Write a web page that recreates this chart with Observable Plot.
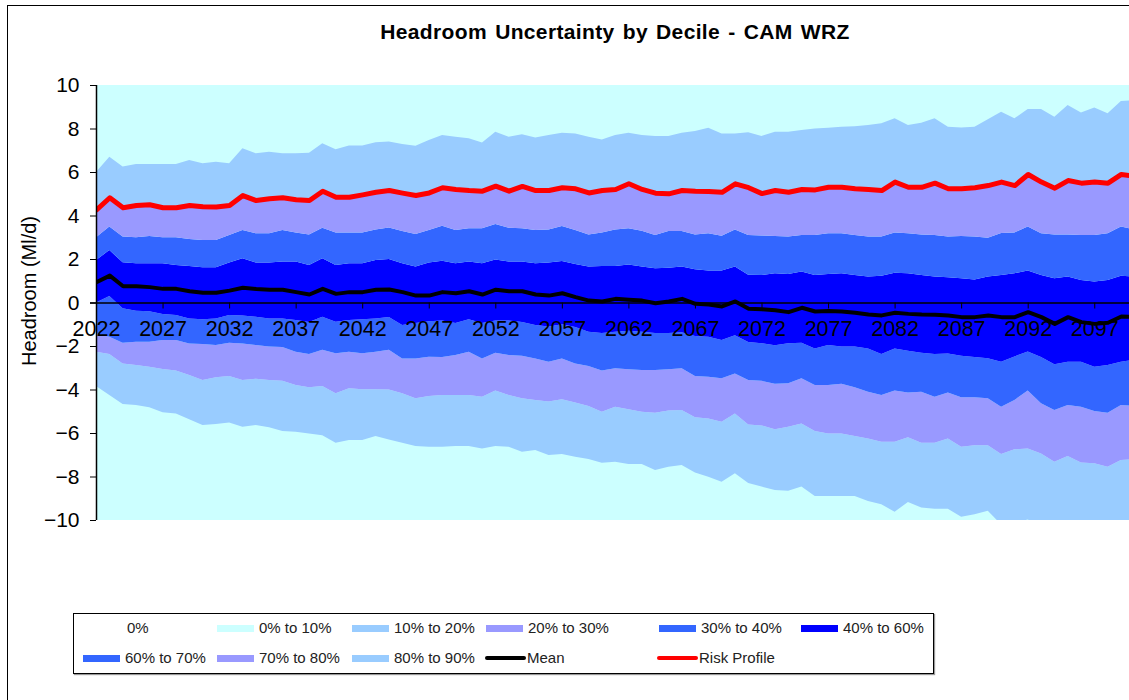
<!DOCTYPE html>
<html>
<head>
<meta charset="utf-8">
<script src="https://cdn.jsdelivr.net/npm/d3@7"></script>
<script src="https://cdn.jsdelivr.net/npm/@observablehq/plot@0.6"></script>
<style>
  html, body { margin: 0; padding: 0; background: #fff; }
  body { font-family: "Liberation Sans", Arial, sans-serif; }
  #wrap { position: relative; width: 1129px; height: 700px; overflow: hidden; }
  #frame { position: absolute; left: 7px; top: 5px; width: 1200px; height: 800px; border-left: 1px solid #000; border-top: 1px solid #000; }
  #title { position: absolute; left: 0; width: 1230px; top: 19px; text-align: center; font-weight: bold; font-size: 21px; letter-spacing: 0.35px; word-spacing: 2px; color: #000; line-height: 26px; }
  #chart { position: absolute; left: 0; top: 0; }
  #legend { position: absolute; left: 73px; top: 613px; width: 859px; height: 59px; border: 1px solid #000; box-shadow: 1px 1px 1px #999; background: #fff; }
  .item { position: absolute; font-size: 15px; color: #222; white-space: nowrap; line-height: 18px; }
  .sw { position: absolute; height: 7px; width: 37px; }
  .ln { position: absolute; height: 4px; width: 41px; border-radius: 2px; }
</style>
</head>
<body>
<div id="wrap">
  <div id="frame"></div>
  <div id="chart"></div>
  <div id="title"></div>
  <div id="legend"></div>
</div>
<script>
const titleText = "Headroom Uncertainty by Decile - CAM WRZ";
const yLabel = "Headroom (Ml/d)";
const years = d3.range(2022, 2101);
const xTickYears = [2022, 2027, 2032, 2037, 2042, 2047, 2052, 2057, 2062, 2067, 2072, 2077, 2082, 2087, 2092, 2097];
const yTicks = [-10, -8, -6, -4, -2, 0, 2, 4, 6, 8, 10];

const p90 = [6.0, 6.7, 6.25, 6.37, 6.37, 6.37, 6.37, 6.55, 6.4, 6.47,
  6.4, 7.09, 6.86, 6.93, 6.86, 6.86, 6.88, 7.32, 7.05, 7.22,
  7.22, 7.37, 7.4, 7.29, 7.21, 7.47, 7.7, 7.62, 7.55, 7.36,
  7.85, 7.62, 7.73, 7.59, 7.7, 7.81, 7.77, 7.62, 7.5, 7.7,
  7.81, 7.7, 7.66, 7.66, 7.81, 7.88, 8.04, 7.77, 7.77, 7.83,
  7.66, 7.85, 7.85, 7.93, 8.0, 8.04, 8.08, 8.1, 8.16, 8.24,
  8.47, 8.16, 8.27, 8.47, 8.08, 8.05, 8.08, 8.42, 8.77, 8.47,
  8.9, 8.9, 8.54, 9.08, 8.73, 8.97, 8.7, 9.26, 9.3];
const riskProfile = [4.28, 4.84, 4.38, 4.48, 4.52, 4.38, 4.38, 4.48, 4.43, 4.41,
  4.48, 4.94, 4.71, 4.79, 4.84, 4.75, 4.71, 5.14, 4.86, 4.86,
  4.97, 5.09, 5.17, 5.05, 4.94, 5.06, 5.3, 5.22, 5.17, 5.14,
  5.37, 5.14, 5.36, 5.17, 5.17, 5.3, 5.25, 5.06, 5.17, 5.22,
  5.48, 5.22, 5.05, 5.02, 5.17, 5.14, 5.13, 5.09, 5.48, 5.3,
  5.03, 5.17, 5.09, 5.22, 5.2, 5.32, 5.32, 5.25, 5.22, 5.17,
  5.56, 5.32, 5.32, 5.51, 5.25, 5.25, 5.3, 5.4, 5.56, 5.4,
  5.91, 5.56, 5.28, 5.63, 5.51, 5.56, 5.51, 5.91, 5.83];
const p80 = riskProfile.slice();
const p70 = [3.0, 3.49, 3.03, 3.0, 3.06, 3.0, 3.0, 2.92, 2.87, 2.87,
  3.1, 3.33, 3.18, 3.18, 3.33, 3.22, 3.13, 3.44, 3.22, 3.22,
  3.22, 3.36, 3.45, 3.29, 3.15, 3.33, 3.53, 3.33, 3.41, 3.41,
  3.61, 3.44, 3.41, 3.33, 3.36, 3.52, 3.33, 3.13, 3.22, 3.36,
  3.41, 3.3, 3.1, 3.29, 3.29, 3.13, 3.18, 3.07, 3.36, 3.1,
  3.08, 3.06, 3.03, 3.1, 3.1, 3.18, 3.18, 3.1, 3.03, 3.03,
  3.22, 3.18, 3.13, 3.1, 3.03, 3.06, 3.03, 2.98, 3.2, 3.22,
  3.49, 3.18, 3.13, 3.13, 3.1, 3.1, 3.18, 3.49, 3.36];
const p60 = [1.95, 2.41, 1.85, 1.8, 1.8, 1.8, 1.72, 1.68, 1.62, 1.62,
  1.84, 2.03, 1.84, 1.84, 1.88, 1.88, 1.72, 2.03, 1.72, 1.8,
  1.8, 1.95, 2.0, 1.8, 1.65, 1.84, 1.92, 1.8, 1.88, 1.8,
  1.98, 1.88, 1.88, 1.8, 1.84, 1.91, 1.77, 1.65, 1.68, 1.68,
  1.75, 1.65, 1.57, 1.6, 1.65, 1.53, 1.47, 1.47, 1.65, 1.28,
  1.26, 1.34, 1.31, 1.42, 1.26, 1.31, 1.34, 1.26, 1.19, 1.23,
  1.37, 1.34, 1.26, 1.19, 1.16, 1.11, 1.06, 1.19, 1.26, 1.34,
  1.47, 1.26, 1.11, 1.19, 1.03, 0.96, 1.03, 1.23, 1.19];
const mean = [0.96, 1.26, 0.77, 0.77, 0.73, 0.65, 0.65, 0.54, 0.47, 0.47,
  0.57, 0.7, 0.64, 0.61, 0.61, 0.5, 0.39, 0.65, 0.42, 0.5,
  0.5, 0.61, 0.62, 0.5, 0.34, 0.34, 0.5, 0.45, 0.54, 0.39,
  0.61, 0.54, 0.54, 0.39, 0.34, 0.45, 0.27, 0.11, 0.07, 0.19,
  0.15, 0.11, -0.01, 0.07, 0.19, -0.04, -0.07, -0.16, 0.07, -0.27,
  -0.29, -0.33, -0.42, -0.22, -0.39, -0.37, -0.39, -0.45, -0.53, -0.57,
  -0.45, -0.5, -0.53, -0.54, -0.57, -0.65, -0.65, -0.57, -0.65, -0.65,
  -0.42, -0.65, -0.96, -0.65, -0.88, -0.96, -0.91, -0.62, -0.65];
const p40 = [0.0, 0.3, -0.27, -0.38, -0.4, -0.53, -0.57, -0.73, -0.77, -0.73,
  -0.57, -0.6, -0.65, -0.73, -0.73, -0.8, -0.9, -0.65, -0.88, -0.8,
  -0.77, -0.73, -0.67, -1.03, -0.94, -0.86, -0.83, -0.94, -0.77, -0.94,
  -0.83, -0.83, -0.9, -1.03, -1.1, -1.0, -1.13, -1.34, -1.4, -1.34,
  -1.3, -1.34, -1.4, -1.4, -1.37, -1.54, -1.57, -1.72, -1.5, -1.82,
  -1.87, -1.97, -1.87, -1.85, -2.11, -1.95, -2.02, -2.02, -2.11, -2.37,
  -2.11, -2.22, -2.31, -2.37, -2.34, -2.45, -2.51, -2.56, -2.72, -2.48,
  -2.25, -2.51, -2.84, -2.72, -2.72, -2.95, -2.87, -2.72, -2.64];
const p30 = [-1.42, -1.57, -1.85, -1.8, -1.8, -1.72, -1.72, -1.88, -1.91, -1.95,
  -1.85, -1.88, -1.95, -2.02, -2.05, -2.26, -2.37, -2.17, -2.33, -2.26,
  -2.33, -2.26, -2.17, -2.57, -2.57, -2.49, -2.51, -2.41, -2.26, -2.57,
  -2.31, -2.41, -2.45, -2.57, -2.72, -2.57, -2.8, -2.92, -3.13, -3.02,
  -3.07, -3.1, -3.1, -3.07, -3.02, -3.38, -3.41, -3.48, -3.26, -3.56,
  -3.6, -3.74, -3.71, -3.48, -3.79, -3.79, -3.74, -3.9, -4.1, -4.25,
  -4.05, -4.14, -4.1, -4.33, -4.14, -4.36, -4.36, -4.4, -4.79, -4.48,
  -4.05, -4.63, -4.94, -4.71, -4.79, -4.99, -5.07, -4.71, -4.76];
const p20 = [-2.26, -2.37, -2.8, -2.87, -2.95, -3.06, -3.13, -3.33, -3.56, -3.44,
  -3.38, -3.56, -3.51, -3.56, -3.6, -3.79, -3.9, -3.84, -4.17, -3.94,
  -3.99, -3.99, -4.0, -4.17, -4.4, -4.3, -4.25, -4.25, -4.25, -4.33,
  -4.05, -4.25, -4.4, -4.48, -4.55, -4.45, -4.6, -4.76, -5.02, -4.79,
  -4.91, -5.02, -5.07, -4.97, -4.94, -5.28, -5.33, -5.48, -5.1, -5.61,
  -5.65, -5.83, -5.71, -5.56, -5.91, -6.02, -6.02, -6.14, -6.25, -6.4,
  -6.4, -6.2, -6.45, -6.45, -6.25, -6.63, -6.56, -6.56, -6.97, -6.75,
  -6.71, -6.94, -7.32, -7.06, -7.36, -7.39, -7.55, -7.24, -7.2];
const p10 = [-3.84, -4.25, -4.67, -4.71, -4.82, -5.05, -5.1, -5.37, -5.63, -5.59,
  -5.52, -5.71, -5.63, -5.74, -5.91, -5.94, -6.02, -6.1, -6.45, -6.32,
  -6.32, -6.14, -6.3, -6.45, -6.6, -6.63, -6.63, -6.6, -6.6, -6.71,
  -6.6, -6.63, -6.86, -6.78, -7.01, -6.97, -7.09, -7.2, -7.37, -7.32,
  -7.43, -7.43, -7.7, -7.55, -7.47, -7.82, -8.01, -8.24, -7.85, -8.3,
  -8.46, -8.62, -8.65, -8.46, -8.9, -8.9, -8.9, -8.9, -9.13, -9.28,
  -9.62, -9.17, -9.43, -9.48, -9.48, -9.85, -9.73, -9.58, -10.2, -10.1,
  -9.98, -10.2, -10.5, -10.4, -10.6, -10.7, -10.8, -10.5, -10.6];

const colors = {
  outer: "#CCFFFF", d1: "#99CCFF", d2: "#9999FF", d3: "#3366FF", mid: "#0000FF",
  mean: "#000000", risk: "#FF0000"
};

const rows = years.map((year, i) => ({
  year, p10: p10[i], p20: p20[i], p30: p30[i], p40: p40[i], p60: p60[i],
  p70: p70[i], p80: p80[i], p90: p90[i], mean: mean[i], risk: riskProfile[i]
}));

const bands = [
  ["p10", "p20", colors.d1], ["p20", "p30", colors.d2], ["p30", "p40", colors.d3],
  ["p40", "p60", colors.mid], ["p60", "p70", colors.d3], ["p70", "p80", colors.d2],
  ["p80", "p90", colors.d1]
];

const W = 1129, H = 700;
const xMax = 2022 + (W - 96) / 13.31;

const plot = Plot.plot({
  width: W, height: H,
  marginLeft: 96, marginRight: 0, marginTop: 85, marginBottom: 180,
  style: { fontFamily: "'Liberation Sans', Arial, sans-serif", fontSize: "21px", background: "transparent", color: "#000" },
  x: { domain: [2022, xMax] },
  y: { domain: [-10, 10] },
  marks: [
    Plot.areaY(rows, { x: "year", y1: -10, y2: 10, fill: colors.outer, clip: true }),
    ...bands.map(([lo, hi, c]) => Plot.areaY(rows, { x: "year", y1: lo, y2: hi, fill: c, clip: true })),
    Plot.ruleY([0], { stroke: "#000", strokeWidth: 1.5, insetLeft: -6 }),
    Plot.ruleX(xTickYears.slice(1), { x: d => d, y1: 0, y2: 0, insetBottom: -6, stroke: "#000", strokeWidth: 1 }),
    Plot.line(rows, { x: "year", y: "mean", stroke: colors.mean, strokeWidth: 4, clip: true }),
    Plot.line(rows, { x: "year", y: "risk", stroke: colors.risk, strokeWidth: 5, clip: true }),
    Plot.ruleX([2022], { y1: -10, y2: 10, stroke: "#000", strokeWidth: 1.5 }),
    Plot.axisY({ ticks: yTicks, tickSize: 6, tickPadding: 11, label: null, fontSize: 21 }),
    Plot.axisX({ ticks: [], label: null }),
    Plot.text([yLabel], { frameAnchor: "left", textAnchor: "middle", lineAnchor: "middle", rotate: -90, dx: -67, dy: -12, text: d => d, fontSize: 20, fill: "#000" }),
    Plot.text(xTickYears, { x: d => d, y: 0, dy: 26, text: d => String(d), fontSize: 21.5, fill: "#000" })
  ]
});
document.getElementById("chart").appendChild(plot);
document.getElementById("title").textContent = titleText;

const legendItems = [
  { label: "0%", type: "none", x: 0, row: 0 },
  { label: "0% to 10%", type: "sw", color: colors.outer, x: 143, row: 0 },
  { label: "10% to 20%", type: "sw", color: colors.d1, x: 278, row: 0 },
  { label: "20% to 30%", type: "sw", color: colors.d2, x: 412, row: 0 },
  { label: "30% to 40%", type: "sw", color: colors.d3, x: 585, row: 0 },
  { label: "40% to 60%", type: "sw", color: colors.mid, x: 727, row: 0 },
  { label: "60% to 70%", type: "sw", color: colors.d3, x: 9, row: 1 },
  { label: "70% to 80%", type: "sw", color: colors.d2, x: 143, row: 1 },
  { label: "80% to 90%", type: "sw", color: colors.d1, x: 278, row: 1 },
  { label: "Mean", type: "ln", color: colors.mean, x: 411, row: 1 },
  { label: "Risk Profile", type: "ln", color: colors.risk, x: 583, row: 1 }
];
const legend = document.getElementById("legend");
for (const it of legendItems) {
  const cy = it.row === 0 ? 14 : 44;
  if (it.type === "sw" || it.type === "ln") {
    const s = document.createElement("div");
    s.className = it.type;
    s.style.background = it.color;
    s.style.left = it.x + "px";
    s.style.top = (cy - (it.type === "sw" ? 3.5 : 2)) + "px";
    legend.appendChild(s);
  }
  const t = document.createElement("div");
  t.className = "item";
  t.textContent = it.label;
  t.style.left = (it.type === "none" ? 53 : it.x + 42) + "px";
  t.style.top = (cy - 9) + "px";
  legend.appendChild(t);
}
</script>
</body>
</html>
